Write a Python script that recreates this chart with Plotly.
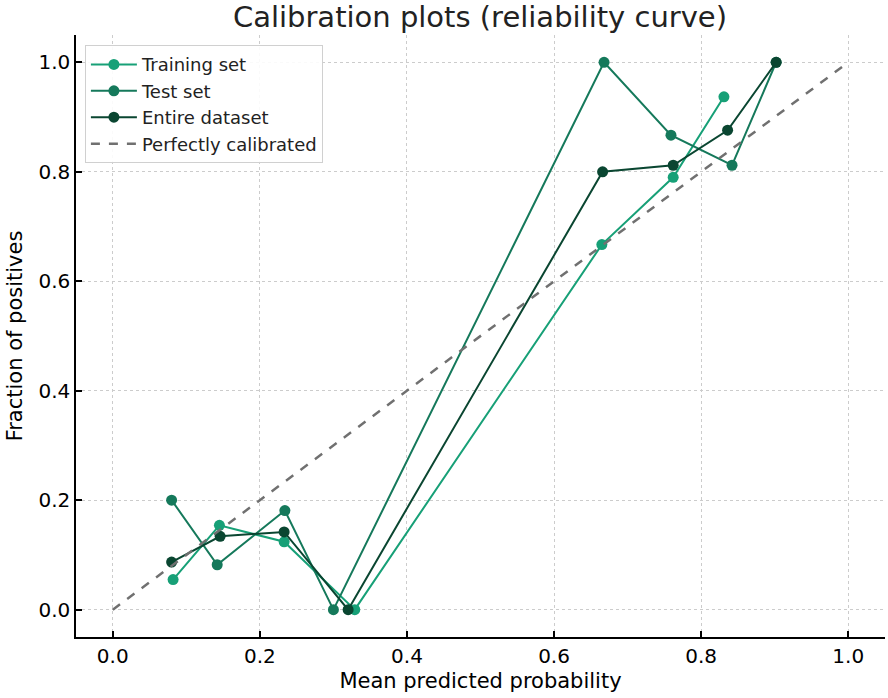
import plotly.graph_objects as go

# calibration curve values
train_x = [0.082, 0.145, 0.233, 0.329, 0.665, 0.762, 0.831]
train_y = [0.055, 0.154, 0.124, 0.0, 0.667, 0.790, 0.937]

test_x = [0.080, 0.142, 0.234, 0.300, 0.668, 0.759, 0.842, 0.902]
test_y = [0.200, 0.082, 0.181, 0.0, 1.0, 0.867, 0.812, 1.0]

full_x = [0.080, 0.146, 0.233, 0.320, 0.666, 0.762, 0.836, 0.902]
full_y = [0.087, 0.134, 0.142, 0.0, 0.800, 0.812, 0.876, 1.0]

diag = [0, 1]
ticks = [0.0, 0.2, 0.4, 0.6, 0.8, 1.0]

series = [
    ("Training set", train_x, train_y, "#17a077"),
    ("Test set", test_x, test_y, "#15795b"),
    ("Entire dataset", full_x, full_y, "#0a4631"),
]

fig = go.Figure()
for name, xs, ys, col in series:
    fig.add_trace(go.Scatter(
        x=xs, y=ys, name=name, mode="lines+markers",
        line=dict(color=col, width=2),
        marker=dict(color=col, size=11),
    ))

fig.add_trace(go.Scatter(
    x=diag, y=diag, name="Perfectly calibrated", mode="lines",
    line=dict(color="#707070", width=2.5, dash="dash"),
))

axis_style = dict(
    range=[-0.05, 1.05], tickvals=ticks, tickformat=".1f",
    ticks="inside", ticklen=6, tickwidth=1.5, tickcolor="black",
    showline=True, linecolor="black", linewidth=1.5,
    showgrid=True, gridcolor="#cccccc", gridwidth=1, griddash="dot",
    zeroline=False, automargin=False,
    tickfont=dict(size=20, color="black"),
    title_font=dict(size=21, color="black"),
)

fig.update_xaxes(title_text="Mean predicted probability", title_standoff=7, **axis_style)
fig.update_yaxes(title_text="Fraction of positives", title_standoff=10, **axis_style)

fig.update_layout(
    width=888, height=698,
    margin=dict(l=76, r=3, t=35, b=61),
    paper_bgcolor="white", plot_bgcolor="white",
    font=dict(family="DejaVu Sans", color="black"),
    title=dict(text="Calibration plots (reliability curve)", x=0.5405, xanchor="center",
               y=0.9756, yanchor="middle", font=dict(size=29, color="#222222")),
    legend=dict(x=0.011, y=0.983, xanchor="left", yanchor="top",
                bordercolor="#d0d0d0", borderwidth=1, bgcolor="rgba(255,255,255,0.9)",
                font=dict(size=18, color="#222222"), tracegroupgap=0, itemwidth=46),
    showlegend=True,
)

# drop the default 8px body margin so the figure fills the window
fig.write_html("out.html", config={"displayModeBar": False},
               post_script="document.body.style.margin = '0';")
